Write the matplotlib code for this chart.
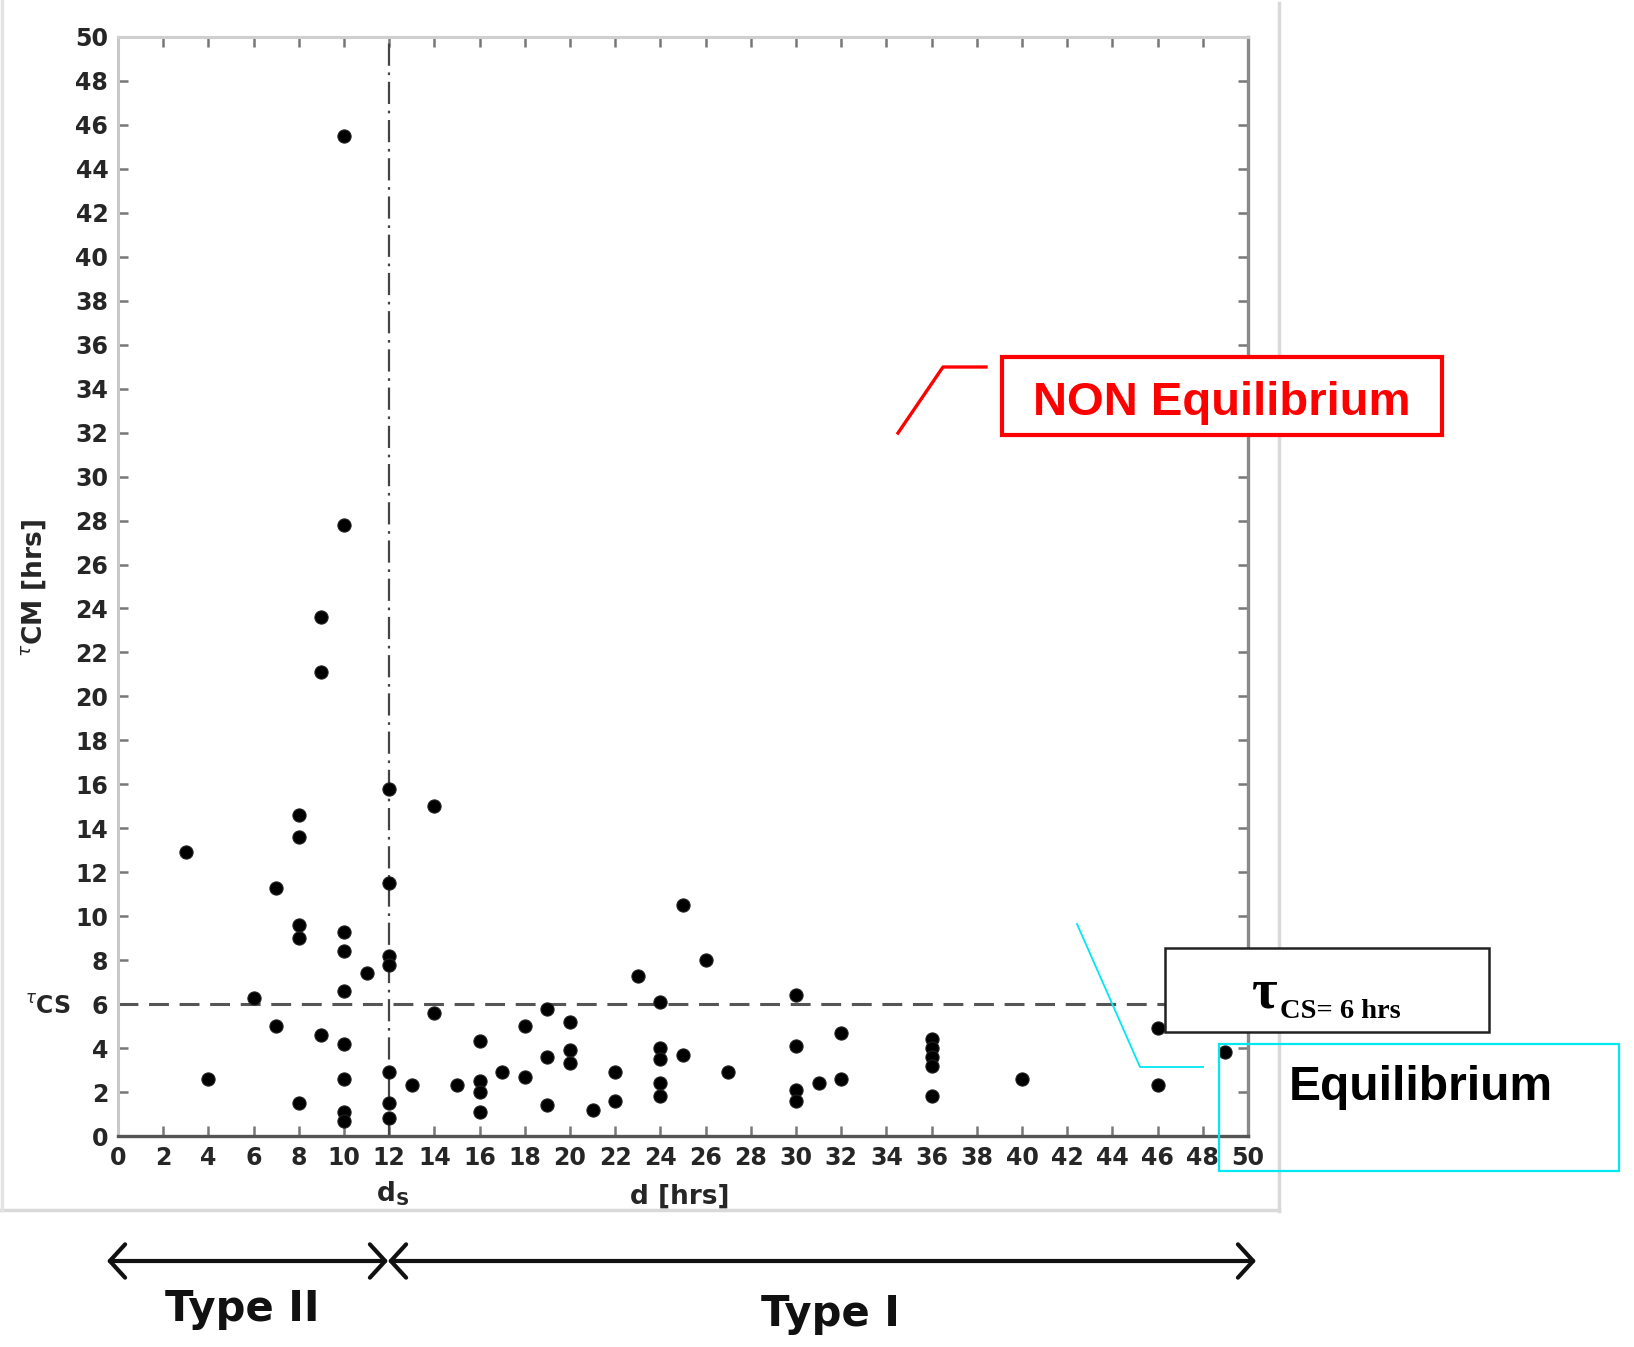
import matplotlib
matplotlib.use("Agg")
import matplotlib.pyplot as plt
from matplotlib.patches import Rectangle, FancyArrowPatch
from matplotlib.lines import Line2D

W, H = 1634, 1347

# event duration d [hrs] and time constant tau_CM [hrs]
d_hrs = [3, 4, 6, 7, 7, 8, 8, 8, 8, 8, 9, 9, 9,
         10, 10, 10, 10, 10, 10, 10, 10, 10, 11,
         12, 12, 12, 12, 12, 12, 12, 13, 14, 14, 15,
         16, 16, 16, 16, 17, 18, 18, 19, 19, 19, 20, 20, 20,
         21, 22, 22, 23, 24, 24, 24, 24, 24, 25, 25, 26, 27,
         30, 30, 30, 30, 31, 32, 32, 36, 36, 36, 36, 36,
         40, 46, 46, 49]
tau_cm = [12.9, 2.6, 6.3, 11.3, 5.0, 14.6, 13.6, 9.6, 9.0, 1.5, 23.6, 21.1, 4.6,
          45.5, 27.8, 9.3, 8.4, 6.6, 4.2, 2.6, 1.1, 0.7, 7.4,
          15.8, 11.5, 8.2, 7.8, 2.9, 1.5, 0.8, 2.3, 15.0, 5.6, 2.3,
          4.3, 2.5, 2.0, 1.1, 2.9, 5.0, 2.7, 5.8, 3.6, 1.4, 5.2, 3.9, 3.3,
          1.2, 2.9, 1.6, 7.3, 6.1, 4.0, 3.5, 2.4, 1.8, 10.5, 3.7, 8.0, 2.9,
          6.4, 4.1, 2.1, 1.6, 2.4, 4.7, 2.6, 4.4, 4.0, 3.6, 3.2, 1.8,
          2.6, 4.9, 2.3, 3.8]

tau_cs = 6
d_s = 12
ticks = list(range(0, 51, 2))


def fx(px):
    return px / W


def fy(py):
    return 1 - py / H


def fig_line(fig, xs, ys, **kw):
    fig.add_artist(Line2D([fx(x) for x in xs], [fy(y) for y in ys],
                          transform=fig.transFigure, **kw))


def fig_box(fig, x0, y0, x1, y1, **kw):
    fig.add_artist(Rectangle((fx(x0), fy(y1)), fx(x1) - fx(x0), fy(y0) - fy(y1),
                             transform=fig.transFigure, **kw))


def main():
    fig = plt.figure(figsize=(W / 100, H / 100), dpi=100)
    fig.patch.set_facecolor("white")

    # light border of the original picture
    fig_line(fig, [0, 1279], [1210, 1210], color="#d9d9d9", lw=2.5, zorder=-1)
    fig_line(fig, [1279, 1279], [3, 1211], color="#d9d9d9", lw=2.5, zorder=-1)
    fig_line(fig, [2, 2], [0, 1210], color="#e3e3e3", lw=2.5, zorder=-1)

    ax = fig.add_axes([fx(118), fy(1136), fx(1248) - fx(118), fy(37) - fy(1136)])
    ax.set_xlim(0, 50)
    ax.set_ylim(0, 50)

    ax.scatter(d_hrs, tau_cm, s=90, color="black", edgecolors="#222222",
               linewidths=0.8, zorder=3)
    ax.axhline(tau_cs, color="#555555", lw=2.2, dashes=(6.5, 3.5), zorder=2)
    ax.axvline(d_s, color="#444444", lw=1.6, linestyle=(0, (10, 3, 1.2, 3)), zorder=2)

    ax.set_xticks(ticks)
    ax.set_yticks(ticks)
    ax.tick_params(direction="in", length=7, width=1.8, color="#777777",
                   top=True, right=True, pad=7, labelsize=17, labelcolor="#262626")
    for lab in ax.get_xticklabels() + ax.get_yticklabels():
        lab.set_fontweight("bold")

    ax.spines["left"].set_color("#c8c8c8")
    ax.spines["top"].set_color("#cfcfcf")
    ax.spines["bottom"].set_color("#555555")
    ax.spines["right"].set_color("#8a8a8a")
    for side in ["left", "top"]:
        ax.spines[side].set_linewidth(2.2)
    for side in ["bottom", "right"]:
        ax.spines[side].set_linewidth(2.4)

    # axis labels
    fig.text(fx(34), fy(588), r"$^{\tau}$CM [hrs]", rotation=90, ha="center", va="center",
             fontsize=19, fontweight="bold", color="#262626")
    fig.text(fx(48), fy(1007), r"$^{\tau}$CS", ha="center", va="center",
             fontsize=17, fontweight="bold", color="#262626")
    fig.text(fx(680), fy(1197), "d [hrs]", ha="center", va="center",
             fontsize=19, fontweight="bold", color="#262626")
    fig.text(fx(393), fy(1194), r"d$_{\mathbf{S}}$", ha="center", va="center",
             fontsize=19, fontweight="bold", color="#262626")

    # NON Equilibrium callout
    fig_line(fig, [898, 943, 986], [433, 367, 367], color="red", lw=2.4, zorder=5)
    fig_box(fig, 1002, 357, 1442, 435, facecolor="white", edgecolor="red", lw=3, zorder=5)
    fig.text(fx(1222), fy(415), "NON Equilibrium", ha="center", va="baseline",
             fontsize=34, fontweight="bold", color="red", family="Liberation Sans", zorder=6)

    # tau_CS box
    fig_box(fig, 1165, 948, 1489, 1032, facecolor="white", edgecolor="#222222", lw=1.8, zorder=5)
    fig.text(fx(1252), fy(1007), "\u03c4", ha="left", va="baseline", fontsize=40,
             fontweight="bold", family="Liberation Serif", color="black", zorder=6)
    fig.text(fx(1280), fy(1018), "CS= 6 hrs", ha="left", va="baseline", fontsize=20.5,
             fontweight="bold", family="Liberation Serif", color="black", zorder=6)

    # Equilibrium callout
    fig_line(fig, [1077, 1140, 1203], [924, 1067, 1067], color="#00e8f0", lw=1.3, zorder=5)
    fig_box(fig, 1219, 1044, 1619, 1171, facecolor="none", edgecolor="#00e8f0", lw=1.6, zorder=5)
    fig.text(fx(1421), fy(1100), "Equilibrium", ha="center", va="baseline",
             fontsize=34.5, fontweight="bold", color="black", family="Liberation Sans", zorder=6)

    # Type II / Type I arrows
    for x0, x1 in [(107, 388), (388, 1256)]:
        fig.add_artist(FancyArrowPatch((fx(x0), fy(1261)), (fx(x1), fy(1261)),
                                       transform=fig.transFigure,
                                       arrowstyle="<->,head_length=0.55,head_width=0.6",
                                       mutation_scale=20, lw=3, color="#111111",
                                       shrinkA=0, shrinkB=0, zorder=5))
    fig.text(fx(242), fy(1309), "Type II", ha="center", va="center",
             fontsize=30, fontweight="bold", color="#111111")
    fig.text(fx(830), fy(1314), "Type I", ha="center", va="center",
             fontsize=30, fontweight="bold", color="#111111")

    fig.savefig("out.png", dpi=100)
    plt.close(fig)


if __name__ == "__main__":
    main()
